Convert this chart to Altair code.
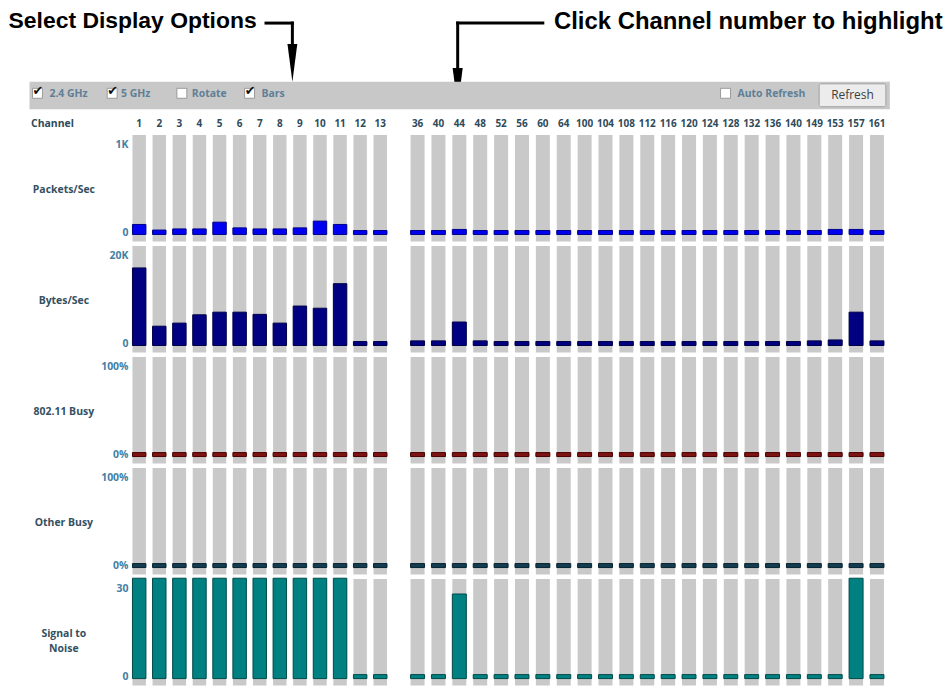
import altair as alt
import pandas as pd

# ---------------- data ----------------
channels_24 = ["1", "2", "3", "4", "5", "6", "7", "8", "9", "10", "11", "12", "13"]
channels_5 = ["36", "40", "44", "48", "52", "56", "60", "64", "100", "104", "108", "112",
              "116", "120", "124", "128", "132", "136", "140", "149", "153", "157", "161"]

packets_24 = [69, 5, 18, 18, 95, 30, 18, 18, 30, 107, 69, 0, 0]
packets_5 = [0, 0, 12, 0, 0, 0, 0, 0, 0, 0, 0, 0, 0, 0, 0, 0, 0, 0, 0, 0, 12, 12, 0]

bytes_24 = [16800, 3500, 4200, 6100, 6700, 6700, 6200, 4200, 8100, 7600, 13200, 0, 0]
bytes_5 = [150, 150, 4450, 150, 0, 0, 0, 0, 0, 0, 0, 0, 0, 0, 0, 0, 0, 0, 0, 150, 360, 6700, 150]

busy_24 = [0, 0, 0, 0, 0, 0, 0, 0, 0, 0, 0, 0, 0]
busy_5 = [0, 0, 0, 0, 0, 0, 0, 0, 0, 0, 0, 0, 0, 0, 0, 0, 0, 0, 0, 0, 0, 0, 0]

other_24 = [0, 0, 0, 0, 0, 0, 0, 0, 0, 0, 0, 0, 0]
other_5 = [0, 0, 0, 0, 0, 0, 0, 0, 0, 0, 0, 0, 0, 0, 0, 0, 0, 0, 0, 0, 0, 0, 0]

snr_24 = [33, 33, 33, 33, 33, 33, 33, 33, 33, 33, 33, 0, 0]
snr_5 = [0, 0, 27.6, 0, 0, 0, 0, 0, 0, 0, 0, 0, 0, 0, 0, 0, 0, 0, 0, 0, 0, 33, 0]

row_titles = ["Packets/Sec", "Bytes/Sec", "802.11 Busy", "Other Busy", ["Signal to", "Noise"]]
row_top_ticks = [1000, 20000, 100, 100, 30]
row_top_labels = ["1K", "20K", "100%", "100%", "30"]
row_zero_labels = ["0", "0", "0%", "0%", "0"]
row_values_24 = [packets_24, bytes_24, busy_24, other_24, snr_24]
row_values_5 = [packets_5, bytes_5, busy_5, other_5, snr_5]

toolbar_labels = ["2.4 GHz", "5 GHz", "Rotate", "Bars"]
toolbar_checked = [True, True, False, True]
note_left = "Select Display Options"
note_right = "Click Channel number to highlight"

# ---------------- style / layout ----------------
fills = ["#0000f0", "#000080", "#7d1212", "#143c50", "#008080"]
strokes = ["#00008a", "#000048", "#4a0000", "#07222f", "#004a4a"]
GRAY = "#c9c9c9"
UI_FONT = "Open Sans"

OX, OY = 132.4, 133.3          # page position of top-left plot
LEFT_W, RIGHT_W, H = 255.6, 475.4, 107
HSP, VSP = 23.3, 4.5


def px(x):
    return x - OX


def py(y):
    return y - OY


one = alt.Data(values=[{"k": 1}])


def rect(x1, x2, y1, y2, **kw):
    return alt.Chart(one).mark_rect(**kw).encode(
        x=alt.value(px(x1)), x2=alt.value(px(x2)),
        y=alt.value(py(y1)), y2=alt.value(py(y2)))


def rule(x1, x2, y1, y2):
    return alt.Chart(one).mark_rule(color="black", strokeWidth=3, strokeCap="butt").encode(
        x=alt.value(px(x1)), x2=alt.value(px(x2)),
        y=alt.value(py(y1)), y2=alt.value(py(y2)))


def label(text, x, y, **kw):
    return alt.Chart(one).mark_text(text=text, **kw).encode(
        x=alt.value(px(x)), y=alt.value(py(y)))


def arrowhead(x, ytop, ybot):
    return alt.Chart(one).mark_point(
        shape="M-0.26,-1L0.26,-1L0,1Z", filled=True, color="black", opacity=1,
        size=(ybot - ytop) ** 2, strokeWidth=0).encode(
        x=alt.value(px(x)), y=alt.value(py((ytop + ybot) / 2)))


def header_layers():
    layers = [rect(8, 9, 8, 9, fill="white")]  # anchor
    # annotations
    layers.append(label(note_left, 8, 8.3, font="Liberation Sans", fontSize=23,
                        fontWeight="bold", color="black", align="left", baseline="top"))
    layers.append(label(note_right, 946, 8.0, font="Liberation Sans", fontSize=24,
                        fontWeight="bold", color="black", align="right", baseline="top"))
    layers.append(rule(265, 294.5, 21, 21))
    layers.append(rule(293, 293, 19.5, 46))
    layers.append(arrowhead(293, 42, 80))
    layers.append(rule(546, 457.5, 21, 21))
    layers.append(rule(459, 459, 19.5, 70))
    layers.append(arrowhead(459, 66, 105))
    # toolbar
    layers.append(rect(29, 893, 80, 107.5, fill="#c8c8c8"))
    box_lefts = [32, 107, 177, 245]
    text_lefts = [49, 121, 192, 262]
    for bl, tl, t, chk in zip(box_lefts, text_lefts, toolbar_labels, toolbar_checked):
        layers.append(rect(bl, bl + 10, 86.5, 96.5, fill="white", stroke="#9a9a9a", strokeWidth=1))
        if chk:
            layers.append(label("✔", bl + 5.5, 89.5, font="DejaVu Sans", fontSize=13,
                                color="#111111", align="center", baseline="middle"))
        layers.append(label(t, tl, 92, font=UI_FONT, fontSize=10.5, fontWeight="bold",
                            color="#5f7f97", align="left", baseline="middle"))
    layers.append(rect(723, 733, 86.5, 96.5, fill="white", stroke="#9a9a9a", strokeWidth=1))
    layers.append(label("Auto Refresh", 740, 92, font=UI_FONT, fontSize=10.5, fontWeight="bold",
                        color="#5f7f97", align="left", baseline="middle"))
    layers.append(rect(822, 889, 82, 105, fill="#ececec", stroke="#a0a0a0", strokeWidth=1,
                       cornerRadius=2))
    layers.append(label("Refresh", 855.5, 93.5, font=UI_FONT, fontSize=12,
                        color="#404040", align="center", baseline="middle"))
    return layers


def panel(channels, values, r, is_left, width):
    T = row_top_ticks[r]
    lo, hi = -9 * T / 88, 98 * T / 88
    df = pd.DataFrame({"channel": channels, "value": values})
    yscale = alt.Scale(domain=[lo, hi], nice=False, zero=False)
    if is_left:
        yaxis = alt.Axis(
            values=[0, T],
            labelExpr=f"datum.value == 0 ? '{row_zero_labels[r]}' : '{row_top_labels[r]}'",
            ticks=False, tickSize=0, domain=False, grid=False,
            labelFont=UI_FONT, labelFontSize=10.5, labelFontWeight="bold",
            labelColor="#3f7fa5", labelPadding=4.5, labelOverlap=False,
            title=row_titles[r], titleAngle=0, titleX=63 - OX, titleY=55,
            titleAlign="center", titleBaseline="middle", titleFont=UI_FONT,
            titleFontSize=10.5, titleFontWeight="bold", titleColor="#34505f",
            titleLineHeight=15)
    else:
        yaxis = None
    if r == 0:
        xaxis = alt.Axis(
            orient="top", ticks=False, tickSize=0, domain=False, grid=False,
            labelAngle=0, labelFont=UI_FONT, labelFontSize=10, labelFontWeight="bold",
            labelColor="#2e4a5a", labelPadding=11.3, labelBaseline="middle",
            labelOverlap=False, labelBound=False,
            title="Channel" if is_left else None,
            titleX=30 - OX, titleY=-11.3, titleAlign="left", titleBaseline="middle",
            titleFont=UI_FONT, titleFontSize=10.5, titleFontWeight="bold",
            titleColor="#2e4a5a")
    else:
        xaxis = None
    xenc = alt.X("channel:N", scale=alt.Scale(domain=channels, paddingInner=0.33, paddingOuter=0),
                 axis=xaxis, title="Channel" if (r == 0 and is_left) else None)
    bg = alt.Chart(df).mark_bar(color=GRAY).encode(
        x=xenc,
        y=alt.YDatum(hi, type="quantitative", scale=yscale, axis=yaxis),
        y2=alt.Y2Datum(lo))
    bars = alt.Chart(df).mark_bar(
        fill=fills[r], stroke=strokes[r], strokeWidth=1, yOffset=-2, y2Offset=2).encode(
        x=xenc,
        y=alt.Y("value:Q", scale=yscale, axis=yaxis),
        y2=alt.Y2Datum(0))
    layers = [bg, bars]
    if r == 0 and is_left:
        layers += header_layers()
    return alt.layer(*layers).properties(width=width, height=H)


panels = []
for r in range(5):
    panels.append(panel(channels_24, row_values_24[r], r, True, LEFT_W))
    panels.append(panel(channels_5, row_values_5[r], r, False, RIGHT_W))

chart = alt.concat(*panels, columns=2, spacing={"row": VSP, "column": HSP},
                   bounds="flush").properties(
    padding=0, background="white"
).configure_view(strokeWidth=0)

chart.save("out.html", embed_options={"renderer": "svg", "actions": False})
